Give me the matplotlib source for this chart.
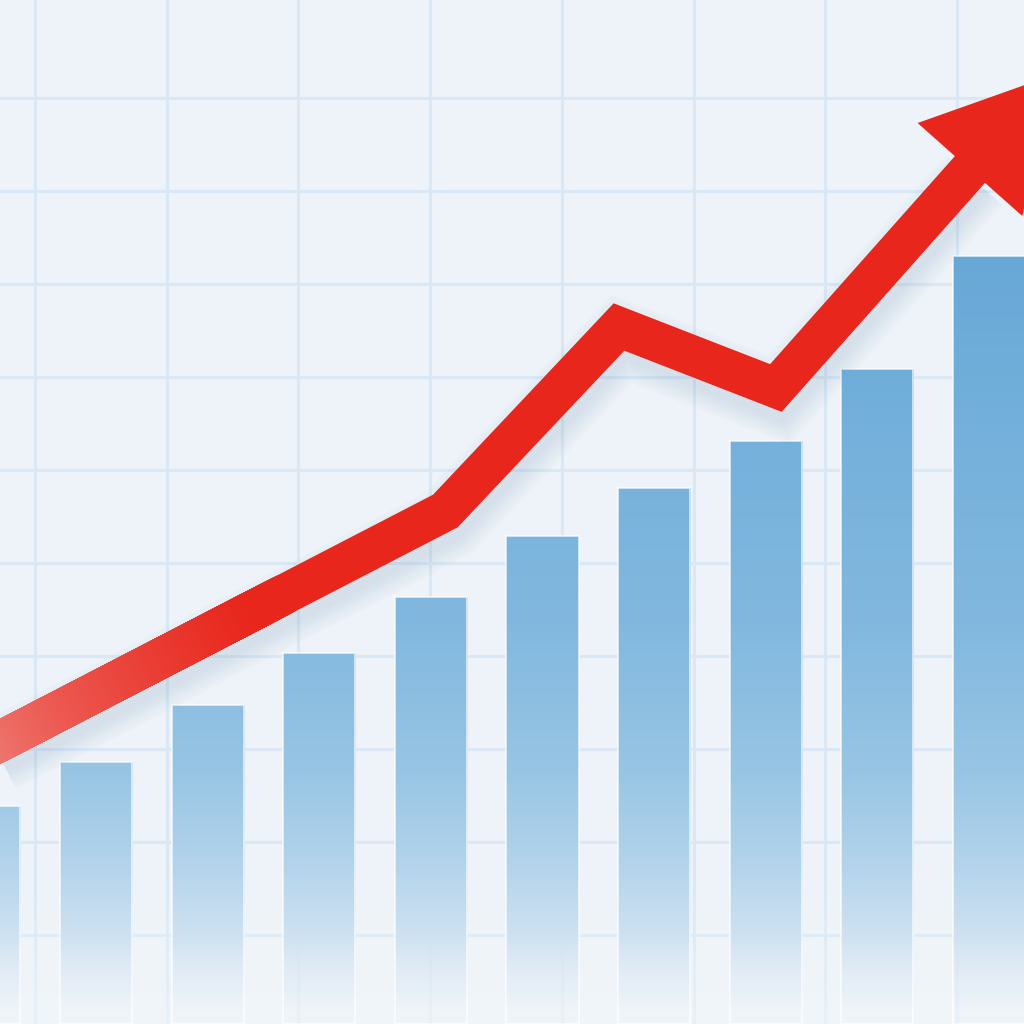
import numpy as np
import matplotlib
matplotlib.use("Agg")
import matplotlib.pyplot as plt
from matplotlib.collections import LineCollection
from matplotlib.patches import Polygon
from matplotlib.colors import to_rgb
from matplotlib.transforms import offset_copy

# 데이터
bar_pos = np.arange(10)
bar_vals = [2.18, 2.62, 3.19, 3.71, 4.27, 4.88, 5.36, 5.83, 6.55, 7.68]

trend_x = [-0.04, 4.13, 5.685, 7.09, 8.84]
trend_y = [2.72, 5.13, 6.97, 6.36, 8.56]

RED = '#e8261c'
PINK = '#f0908a'
BG = '#edf3f8'
GRID = '#d9e8f4'

fig = plt.figure(figsize=(10.24, 10.24), dpi=100)
fig.patch.set_facecolor(BG)
ax = fig.add_axes([0, 0, 1, 1])
ax.set_facecolor(BG)

x0, x1 = 15.8 / 111.66, (1024 + 15.8) / 111.66
y0, y1 = 0, 10.24

# 그리드
ax.set_xticks(np.arange(0.455, x1, 1.1795))
ax.set_yticks(np.arange(0.89, 9.5, 0.93))
ax.grid(True, color=GRID, linewidth=2.2, zorder=0)
ax.set_axisbelow(True)
ax.tick_params(length=0, labelbottom=False, labelleft=False)
for s in ax.spines.values():
    s.set_visible(False)

# 바닥 안개
fog = np.zeros((200, 1, 4))
fog[..., :3] = to_rgb('#f3f7fa')
fog[:, 0, 3] = np.clip(1 - np.linspace(0, 10.24, 200) / 1.6, 0, 1) * 0.6
ax.imshow(fog, extent=[x0, x1, y0, y1], aspect='auto', origin='lower', zorder=1)

# 막대 그라데이션
stops_v = [0.0, 0.3, 0.9, 1.5, 2.5, 4.0, 6.0, 7.7, 10.24]
stops_c = ['#edf3f8', '#e2edf6', '#cde1f1', '#b6d5ec', '#98c5e4',
           '#82b8df', '#73b0db', '#68a8d7', '#68a8d7']
stops_a = [0.0, 0.5, 1.0, 1.0, 1.0, 1.0, 1.0, 1.0, 1.0]
vv = np.linspace(0, 10.24, 400)
rgb = np.array([to_rgb(c) for c in stops_c])
grad = np.zeros((400, 1, 4))
for k in range(3):
    grad[:, 0, k] = np.interp(vv, stops_v, rgb[:, k])
grad[:, 0, 3] = np.interp(vv, stops_v, stops_a)

bars = ax.bar(bar_pos, bar_vals, width=0.645, color='none',
              edgecolor=(1, 1, 1, 0.75), linewidth=1.2, zorder=3)
for b in bars:
    im = ax.imshow(grad, extent=[x0, x1, y0, y1], aspect='auto',
                   origin='lower', zorder=2.5)
    im.set_clip_path(b)

ax.set_xlim(x0, x1)
ax.set_ylim(y0, y1)

LW = 29

# 그림자
for k in range(6):
    tr = offset_copy(ax.transData, fig=fig, x=3, y=-12, units='dots')
    ax.plot(trend_x, trend_y, color='#7d9dbd', alpha=0.035,
            linewidth=LW + k * 5, solid_joinstyle='miter',
            solid_capstyle='butt', transform=tr, zorder=4)

# 빨간 선 (왼쪽 그라데이션 부분)
t_split = 0.62
xa, ya = trend_x[0], trend_y[0]
xb, yb = trend_x[1], trend_y[1]
ts = np.linspace(0, t_split, 90)
px = xa + (xb - xa) * ts
py = ya + (yb - ya) * ts
segs = [[(px[i], py[i]), (px[i + 1], py[i + 1])] for i in range(len(ts) - 1)]
f = np.linspace(0, 1, len(segs)) ** 0.6
c_pink, c_red = np.array(to_rgb(PINK)), np.array(to_rgb(RED))
cols = [tuple(c_pink + (c_red - c_pink) * fi) for fi in f]

xs = xa + (xb - xa) * (t_split - 0.02)
ys = ya + (yb - ya) * (t_split - 0.02)
ax.plot([xs] + trend_x[1:], [ys] + trend_y[1:], color=RED, linewidth=LW,
        solid_joinstyle='miter', solid_capstyle='butt', zorder=5)
lc = LineCollection(segs, colors=cols, linewidths=LW, capstyle='projecting',
                    zorder=5.5)
ax.add_collection(lc)

# 화살표 머리
fig.canvas.draw()
T = ax.transData
p_end = T.transform((trend_x[-1], trend_y[-1]))
p_prev = T.transform((trend_x[-2], trend_y[-2]))
d = (p_end - p_prev) / np.linalg.norm(p_end - p_prev)
n = np.array([-d[1], d[0]])
head_px = [p_end - d * 2 + n * 70, p_end + d * 125, p_end - d * 2 - n * 70]
head = T.inverted().transform(np.array(head_px))
ax.add_patch(Polygon(head, closed=True, facecolor=RED, edgecolor='none',
                     zorder=6))

fig.savefig('out.png', dpi=100, facecolor=BG)
